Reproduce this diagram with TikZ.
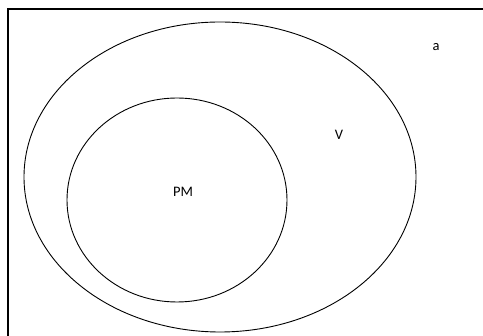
\documentclass[tikz,border=0pt]{standalone}
\usepackage{fontspec}
\setmainfont{Carlito}
\usetikzlibrary{positioning,shapes.geometric}

\begin{document}
\begin{tikzpicture}[
    x=1pt, y=-1pt,
    set/.style={draw, ellipse, line width=0.9pt, inner sep=0pt},
    lbl/.style={font=\fontsize{14.5}{17}\selectfont, inner sep=0pt}
]
    \useasboundingbox (0,0) rectangle (483,336);
    \draw[line width=1.1pt] (8,345) |- (495,9);
    \node[set, minimum width=392pt, minimum height=310pt] (vset) at (220,177) {};
    \node[set, minimum width=220pt, minimum height=204pt] (pmset) at (177,200) {};
    \node[lbl] (pm) at (183,192) {PM};
    \node[lbl] (v) at (339,135) {V};
    \node[lbl] (a) at (436,47) {a};
\end{tikzpicture}
\end{document}
